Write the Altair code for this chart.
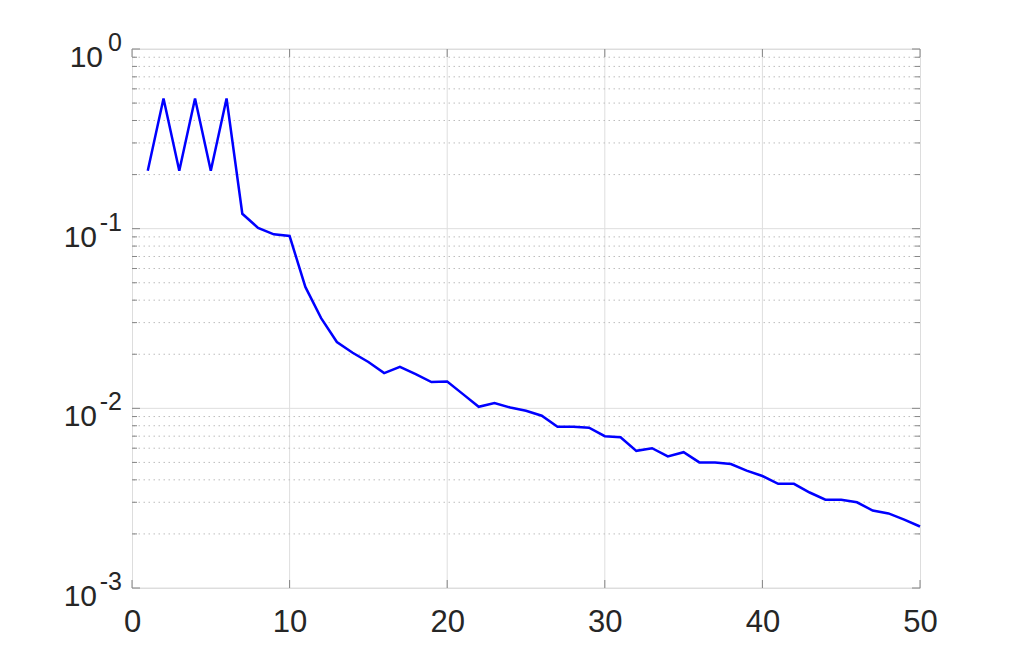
import altair as alt
import pandas as pd

# ---- data ----
iters = list(range(1, 51))
values = [0.21, 0.53, 0.21, 0.53, 0.21, 0.53, 0.121, 0.101, 0.093, 0.091,
          0.0474, 0.0318, 0.0234, 0.0204, 0.0181, 0.0157, 0.0170, 0.0155, 0.0140, 0.0141,
          0.0120, 0.0102, 0.0107, 0.0101, 0.0097, 0.0091, 0.0079, 0.0079, 0.0078, 0.0070,
          0.0069, 0.0058, 0.0060, 0.0054, 0.0057, 0.0050, 0.0050, 0.0049, 0.0045, 0.0042,
          0.0038, 0.0038, 0.0034, 0.0031, 0.0031, 0.0030, 0.0027, 0.0026, 0.0024, 0.0022]

x_ticks = [0, 10, 20, 30, 40, 50]
x_grid = [10, 20, 30, 40]
y_major = [1, 0.1, 0.01, 0.001]
y_exp = ["0", "-1", "-2", "-3"]
y_minor = [0.002, 0.003, 0.004, 0.005, 0.006, 0.007, 0.008, 0.009,
           0.02, 0.03, 0.04, 0.05, 0.06, 0.07, 0.08, 0.09,
           0.2, 0.3, 0.4, 0.5, 0.6, 0.7, 0.8, 0.9]

df = pd.DataFrame({"x": iters, "y": values})
df_major = pd.DataFrame({"v": y_major, "exp": y_exp})
df_minor = pd.DataFrame({"v": y_minor})
df_xgrid = pd.DataFrame({"x": x_grid})
df_xticks = pd.DataFrame({"x": x_ticks})

W, H = 788, 539
xs = alt.Scale(domain=[0, 50], nice=False, zero=False)
ys = alt.Scale(type="log", domain=[0.001, 1], nice=False)
GRID = "#dedede"
TXT = "#262626"
FRAME = "#868686"
FONT = "Liberation Sans"

XAXIS = alt.Axis(values=x_ticks, grid=False, ticks=False, domain=False,
                 labelFontSize=31, labelPadding=19, labelColor=TXT,
                 labelFont=FONT, title=None, labelFlush=False)

def X(field="x:Q"):
    return alt.X(field, scale=xs, axis=XAXIS)

xgrid = alt.Chart(df_xgrid).mark_rule(color=GRID, strokeWidth=1).encode(x=X())
ygrid_major = alt.Chart(df_major).mark_rule(color=GRID, strokeWidth=1).encode(
    y=alt.Y("v:Q", scale=ys, axis=None))
ygrid_minor = alt.Chart(df_minor).mark_rule(color="#bdbdbd", strokeWidth=1, strokeDash=[1.5, 3.5]).encode(
    y=alt.Y("v:Q", scale=ys, axis=None))

# inside ticks
def yticks(data, x0, x1):
    return alt.Chart(data).mark_rule(color=FRAME, strokeWidth=1).encode(
        y=alt.Y("v:Q", scale=ys, axis=None), x=alt.value(x0), x2=alt.value(x1))

tick_layers = [
    yticks(df_major, 0, 8), yticks(df_major, W - 8, W),
    yticks(df_minor, 0, 5), yticks(df_minor, W - 5, W),
    alt.Chart(df_xticks).mark_rule(color=FRAME, strokeWidth=1).encode(
        x=X(), y=alt.value(H - 8), y2=alt.value(H)),
    alt.Chart(df_xticks).mark_rule(color=FRAME, strokeWidth=1).encode(
        x=X(), y=alt.value(0), y2=alt.value(8)),
]

line = alt.Chart(df).mark_line(color="#0000ff", strokeWidth=2.5).encode(
    x=X(),
    y=alt.Y("y:Q", scale=ys, axis=None),
)

base1 = alt.Chart(df_major).transform_filter("length(datum.exp) == 1").mark_text(
    align="right", baseline="alphabetic", dy=18, fontSize=30, font=FONT, color=TXT).encode(
    y=alt.Y("v:Q", scale=ys, axis=None), x=alt.value(-29), text=alt.value("10"))
base2 = alt.Chart(df_major).transform_filter("length(datum.exp) == 2").mark_text(
    align="right", baseline="alphabetic", dy=18, fontSize=30, font=FONT, color=TXT).encode(
    y=alt.Y("v:Q", scale=ys, axis=None), x=alt.value(-35), text=alt.value("10"))
expo = alt.Chart(df_major).mark_text(
    align="right", baseline="alphabetic", dy=2, fontSize=25, font=FONT, color=TXT).encode(
    y=alt.Y("v:Q", scale=ys, axis=None), x=alt.value(-10), text="exp:N")

chart = alt.layer(xgrid, ygrid_major, ygrid_minor, *tick_layers, line, base1, base2, expo).properties(
    width=W, height=H,
    autosize=alt.AutoSizeParams(type="none"),
    padding={"left": 124, "top": 41, "right": 80, "bottom": 60},
).configure_view(stroke=FRAME, strokeWidth=1.3).configure(background="white")

chart.save("out.html", embed_options={"renderer": "svg", "actions": False})
